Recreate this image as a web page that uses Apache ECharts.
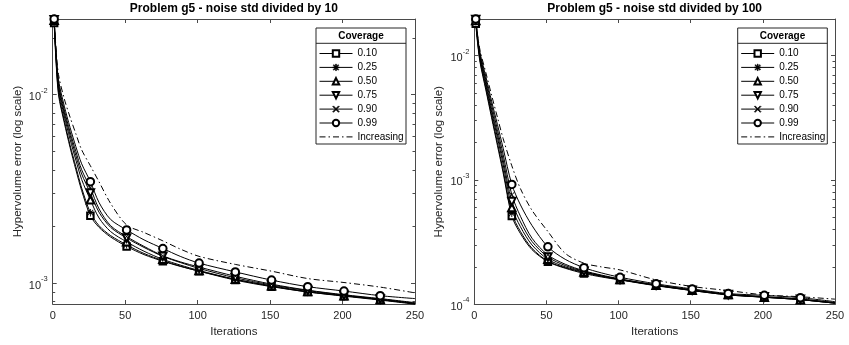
<!DOCTYPE html>
<html><head><meta charset="utf-8">
<script src="https://cdn.jsdelivr.net/npm/echarts@6/dist/echarts.min.js"></script>
<style>html,body{margin:0;padding:0;background:#fff}#c{width:849px;height:345px}</style>
</head><body><div id="c"></div>
<script>
// ---------------- data ----------------
const iterations = [1, 2, 4, 8, 12, 16, 20, 26, 32, 40, 51, 63, 76, 88, 101, 126, 151, 176, 201, 226, 250];
const markerIterations = [1, 26, 51, 76, 101, 126, 151, 176, 201, 226];
const seriesNames = ['0.10', '0.25', '0.50', '0.75', '0.90', '0.99', 'Increasing'];
const xTicks = [0, 50, 100, 150, 200, 250];

// left panel: noise std divided by 10
const left010 = [24.0e-3,16.5e-3,10.0e-3,7.1e-3,5.25e-3,4.0e-3,3.1e-3,2.28e-3,1.98e-3,1.76e-3,1.57e-3,1.42e-3,1.31e-3,1.23e-3,1.16e-3,1.04e-3,0.96e-3,0.90e-3,0.855e-3,0.815e-3,0.775e-3];
const left025 = [24.5e-3,17.0e-3,10.3e-3,7.3e-3,5.4e-3,4.15e-3,3.2e-3,2.37e-3,2.02e-3,1.79e-3,1.60e-3,1.44e-3,1.32e-3,1.235e-3,1.16e-3,1.05e-3,0.965e-3,0.90e-3,0.86e-3,0.82e-3,0.78e-3];
const left050 = [24.8e-3,17.5e-3,10.8e-3,7.7e-3,5.8e-3,4.5e-3,3.55e-3,2.77e-3,2.22e-3,1.88e-3,1.66e-3,1.48e-3,1.34e-3,1.25e-3,1.17e-3,1.05e-3,0.97e-3,0.905e-3,0.86e-3,0.82e-3,0.78e-3];
const left075 = [25.0e-3,17.8e-3,11.2e-3,8.0e-3,6.1e-3,4.75e-3,3.8e-3,3.01e-3,2.38e-3,1.98e-3,1.74e-3,1.55e-3,1.39e-3,1.29e-3,1.20e-3,1.07e-3,0.98e-3,0.915e-3,0.865e-3,0.825e-3,0.785e-3];
const left090 = [25.0e-3,18.0e-3,11.5e-3,8.3e-3,6.35e-3,5.0e-3,4.0e-3,3.20e-3,2.48e-3,2.02e-3,1.77e-3,1.57e-3,1.40e-3,1.30e-3,1.22e-3,1.09e-3,0.99e-3,0.92e-3,0.87e-3,0.83e-3,0.79e-3];
const left099 = [25.2e-3,18.3e-3,12.0e-3,8.7e-3,6.7e-3,5.3e-3,4.3e-3,3.46e-3,2.68e-3,2.18e-3,1.92e-3,1.70e-3,1.53e-3,1.39e-3,1.28e-3,1.15e-3,1.04e-3,0.96e-3,0.91e-3,0.86e-3,0.83e-3];
const leftIncreasing = [25.2e-3,18.8e-3,12.8e-3,9.5e-3,7.6e-3,6.2e-3,5.1e-3,4.2e-3,3.45e-3,2.65e-3,2.04e-3,1.86e-3,1.68e-3,1.52e-3,1.39e-3,1.26e-3,1.16e-3,1.06e-3,1.01e-3,0.955e-3,0.89e-3];
const leftMajorTicks = [1e-3, 1e-2];
const leftMinorTicks = [8e-4, 9e-4, 2e-3, 3e-3, 4e-3, 5e-3, 6e-3, 7e-3, 8e-3, 9e-3, 2e-2];

// right panel: noise std divided by 100
const right010 = [180e-4,135e-4,88e-4,53e-4,31.6e-4,19e-4,11.4e-4,5.13e-4,3.7e-4,2.75e-4,2.2e-4,1.95e-4,1.77e-4,1.66e-4,1.57e-4,1.41e-4,1.29e-4,1.19e-4,1.14e-4,1.09e-4,1.02e-4];
const right025 = [190e-4,140e-4,91e-4,55e-4,33e-4,20e-4,12.0e-4,5.4e-4,3.85e-4,2.82e-4,2.22e-4,1.97e-4,1.80e-4,1.68e-4,1.58e-4,1.42e-4,1.29e-4,1.19e-4,1.14e-4,1.09e-4,1.02e-4];
const right050 = [192e-4,145e-4,95e-4,58e-4,35e-4,22e-4,13.3e-4,6.0e-4,4.2e-4,3.0e-4,2.30e-4,2.00e-4,1.82e-4,1.69e-4,1.58e-4,1.42e-4,1.30e-4,1.20e-4,1.14e-4,1.09e-4,1.02e-4];
const right075 = [195e-4,148e-4,98e-4,61e-4,37e-4,23.5e-4,14.5e-4,6.7e-4,4.6e-4,3.2e-4,2.40e-4,2.05e-4,1.84e-4,1.70e-4,1.59e-4,1.43e-4,1.30e-4,1.20e-4,1.15e-4,1.10e-4,1.03e-4];
const right090 = [195e-4,150e-4,101e-4,64e-4,40e-4,25.5e-4,16e-4,7.6e-4,5.1e-4,3.4e-4,2.49e-4,2.10e-4,1.86e-4,1.72e-4,1.60e-4,1.43e-4,1.31e-4,1.20e-4,1.15e-4,1.10e-4,1.03e-4];
const right099 = [197e-4,152e-4,105e-4,68e-4,43e-4,28e-4,18e-4,9.2e-4,6.3e-4,4.3e-4,2.90e-4,2.30e-4,1.97e-4,1.79e-4,1.65e-4,1.46e-4,1.33e-4,1.22e-4,1.18e-4,1.13e-4,1.05e-4];
const rightIncreasing = [197e-4,155e-4,110e-4,73e-4,48e-4,32e-4,21.5e-4,13.0e-4,8.5e-4,5.7e-4,3.85e-4,2.57e-4,2.14e-4,2.0e-4,1.89e-4,1.57e-4,1.39e-4,1.29e-4,1.19e-4,1.15e-4,1.10e-4];
const rightMajorTicks = [1e-4, 1e-3, 1e-2];
const rightMinorTicks = [2e-4,3e-4,4e-4,5e-4,6e-4,7e-4,8e-4,9e-4,2e-3,3e-3,4e-3,5e-3,6e-3,7e-3,8e-3,9e-3];

const titles = ['Problem g5 - noise std divided by 10', 'Problem g5 - noise std divided by 100'];

// ---------------- styling ----------------
const FONT = '"Liberation Sans", Arial, Helvetica, sans-serif';
const axisColor = '#4a4a4a';
const textColor = '#262626';
const asteriskPath = 'path://M4.4,0 L5.6,0 L5.6,10 L4.4,10 Z M0,4.4 L10,4.4 L10,5.6 L0,5.6 Z M1.5,0.7 L9.3,8.5 L8.5,9.3 L0.7,1.5 Z M8.5,0.7 L9.3,1.5 L1.5,9.3 L0.7,8.5 Z';
const xPath = 'path://M1,0 L5,4 L9,0 L10,1 L6,5 L10,9 L9,10 L5,6 L1,10 L0,9 L4,5 L0,1 Z';
const styles = [
  {symbol: 'emptyRect', size: 6.5, bw: 0.8},
  {symbol: asteriskPath, size: 7.5, bw: 0},
  {symbol: 'emptyTriangle', size: 7.5, bw: 0.8},
  {symbol: 'emptyTriangle', size: 7.5, bw: 0.8, rotate: 180},
  {symbol: xPath, size: 5.5, bw: 0},
  {symbol: 'emptyCircle', size: 7.5, bw: 0.8},
  {symbol: 'none', size: 0, bw: 0, dash: [6, 3, 1.5, 3]}
];

const grids = [
  {left: 52.7, top: 19, width: 362.3, height: 285},
  {left: 474.3, top: 19, width: 360.7, height: 285.3}
];
const yRanges = [[7.77e-4, 0.0252], [1e-4, 0.0197]];
const majors = [leftMajorTicks, rightMajorTicks];
const minors = [leftMinorTicks, rightMinorTicks];
const panels = [
  [left010, left025, left050, left075, left090, left099, leftIncreasing],
  [right010, right025, right050, right075, right090, right099, rightIncreasing]
];

function xAx(g, pos) {
  const main = pos === 'bottom';
  return {
    gridIndex: g, type: 'value', position: pos, min: xTicks[0], max: xTicks[xTicks.length - 1], interval: 50,
    axisLine: {show: true, onZero: false, lineStyle: {color: axisColor, width: 1}},
    axisTick: {show: true, inside: true, length: 4, lineStyle: {color: axisColor, width: 1}},
    axisLabel: {show: main, margin: 6, fontSize: 11, color: textColor, fontFamily: FONT},
    splitLine: {show: false},
    name: main ? 'Iterations' : '', nameLocation: 'middle', nameGap: 22,
    nameTextStyle: {fontSize: 11.5, color: textColor, fontFamily: FONT}
  };
}
function yAx(g, pos, kind) {
  const isMajor = kind === 'major';
  const main = isMajor && pos === 'left';
  const vals = isMajor ? majors[g] : minors[g];
  return {
    gridIndex: g, type: 'log', logBase: 10, position: pos, min: yRanges[g][0], max: yRanges[g][1],
    axisLine: {show: isMajor, onZero: false, lineStyle: {color: axisColor, width: 1}},
    axisTick: {show: true, inside: true, length: isMajor ? 4 : 2.5, customValues: vals, lineStyle: {color: axisColor, width: 1}},
    axisLabel: {
      show: main, customValues: majors[g], margin: 5, color: textColor, fontFamily: FONT,
      showMinLabel: true, showMaxLabel: true,
      formatter: v => '{b|10}{s|' + Math.round(Math.log10(v)) + '}',
      rich: {
        b: {fontSize: 11, color: textColor, fontFamily: FONT, verticalAlign: 'bottom', lineHeight: 16},
        s: {fontSize: 7.5, color: textColor, fontFamily: FONT, verticalAlign: 'top', lineHeight: 16}
      }
    },
    splitLine: {show: false}, minorTick: {show: false},
    name: main ? 'Hypervolume error (log scale)' : '', nameLocation: 'middle', nameGap: 29,
    nameTextStyle: {fontSize: 11.5, color: textColor, fontFamily: FONT}
  };
}

const xAxis = [], yAxis = [], series = [];
for (let g = 0; g < 2; g++) {
  xAxis.push(xAx(g, 'bottom'), xAx(g, 'top'));
  yAxis.push(yAx(g, 'left', 'major'), yAx(g, 'right', 'major'), yAx(g, 'left', 'minor'), yAx(g, 'right', 'minor'));
  panels[g].forEach((vals, k) => {
    const st = styles[k];
    series.push({
      name: seriesNames[k], type: 'line', xAxisIndex: g * 2, yAxisIndex: g * 4,
      data: iterations.map((it, i) => {
        const d = {value: [it, vals[i]]};
        if (!markerIterations.includes(it)) d.symbol = 'none';
        return d;
      }),
      symbol: st.symbol, symbolSize: st.size, symbolRotate: st.rotate || 0,
      showSymbol: st.symbol !== 'none', showAllSymbol: true, clip: false, smooth: 0.3,
      lineStyle: {color: '#000', width: 1, type: st.dash || 'solid'},
      itemStyle: {color: '#000', borderColor: '#000', borderWidth: st.bw},
      emphasis: {disabled: true}, z: 2
    });
  });
}

const legendBoxes = [{x: 316, y: 28, w: 90, h: 116}, {x: 737.7, y: 28, w: 89.6, h: 116}];
const legend = legendBoxes.map(b => ({
  data: seriesNames.map(n => n === 'Increasing' ? {name: n, itemStyle: {opacity: 0}} : {name: n}),
  orient: 'vertical', left: b.x, top: b.y, padding: [20.5, 0, 0, 3],
  itemWidth: 33, itemHeight: 8, itemGap: 3.9, selectedMode: false,
  lineStyle: {width: 1, color: '#000'},
  itemStyle: {borderWidth: 0.8},
  textStyle: {fontSize: 10, color: '#000', fontFamily: FONT, lineHeight: 8}, z: 6
}));

const graphic = [];
legendBoxes.forEach(b => {
  graphic.push({type: 'rect', z: 4, shape: {x: b.x, y: b.y, width: b.w, height: b.h},
    style: {fill: '#fff', stroke: '#262626', lineWidth: 1}});
  graphic.push({type: 'line', z: 5, shape: {x1: b.x, y1: b.y + 15.3, x2: b.x + b.w, y2: b.y + 15.3},
    style: {stroke: '#262626', lineWidth: 1}});
  graphic.push({type: 'text', z: 5, x: b.x + b.w / 2, y: b.y + 8.5,
    style: {text: 'Coverage', fill: '#000', font: 'bold 10px ' + FONT, textAlign: 'center', textVerticalAlign: 'middle'}});
});
grids.forEach((gr, i) => {
  graphic.push({type: 'text', z: 5, x: gr.left + gr.width / 2, y: 9,
    style: {text: titles[i], fill: '#000', font: 'bold 12px ' + FONT, textAlign: 'center', textVerticalAlign: 'middle'}});
});

const chart = echarts.init(document.getElementById('c'), null, {renderer: 'canvas'});
chart.setOption({
  animation: false,
  backgroundColor: '#fff',
  grid: grids.map(g => Object.assign({show: false, containLabel: false}, g)),
  xAxis, yAxis, series, legend, graphic
});
</script></body></html>
